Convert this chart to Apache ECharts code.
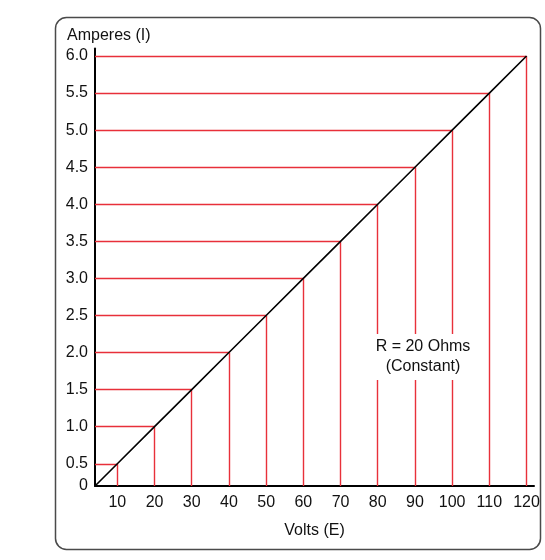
<!DOCTYPE html>
<html>
<head>
<meta charset="utf-8">
<script src="https://cdn.jsdelivr.net/npm/echarts@6/dist/echarts.min.js"></script>
<style>
  html, body { margin: 0; padding: 0; background: #fff; }
  #main { width: 545px; height: 560px; }
</style>
</head>
<body>
<div id="main"></div>
<script>
// Ohm's law, R = 20 ohms
var volts = [10, 20, 30, 40, 50, 60, 70, 80, 90, 100, 110, 120];
var amps = [0.5, 1.0, 1.5, 2.0, 2.5, 3.0, 3.5, 4.0, 4.5, 5.0, 5.5, 6.0];
// the axes cross a little above/right of zero, on the line itself
var xStart = 4; var yStart = 0.2;
var xEnd = 122; var yEnd = 6.1;

var chart = echarts.init(document.getElementById('main'));

var guides = [];
for (var i = 0; i < volts.length; i++) {
  guides.push({ coords: [[xStart, amps[i]], [volts[i], amps[i]]] });
  guides.push({ coords: [[volts[i], amps[i]], [volts[i], yStart]] });
}
var diag = [[xStart, yStart]];
for (var j = 0; j < volts.length; j++) {
  diag.push([volts[j], amps[j]]);
}

var font = 'Liberation Sans, Arial, Helvetica, sans-serif';

var option = {
  animation: false,
  title: {
    text: 'Amperes (I)',
    left: 67,
    top: 28,
    padding: 0,
    textStyle: { fontFamily: font, fontSize: 16, fontWeight: 'normal', color: '#111' }
  },
  grid: { left: 95, right: 11, top: 48.6, bottom: 74 },
  xAxis: {
    type: 'value',
    min: xStart,
    max: xEnd,
    interval: 2,
    name: 'Volts (E)',
    nameLocation: 'middle',
    nameGap: 37,
    nameTextStyle: { fontFamily: font, fontSize: 16, color: '#111' },
    axisLine: { lineStyle: { color: '#000', width: 2 } },
    axisTick: { show: false },
    splitLine: { show: false },
    axisLabel: {
      margin: 9,
      fontFamily: font,
      fontSize: 16,
      color: '#111',
      interval: 0,
      formatter: function (v) {
        var r = Math.round(v);
        return (r % 10 === 0 && r >= 10 && r <= 120) ? String(r) : '';
      }
    }
  },
  yAxis: {
    type: 'value',
    min: yStart,
    max: yEnd,
    interval: 0.1,
    axisLine: { show: true, lineStyle: { color: '#000', width: 2 } },
    axisTick: { show: false },
    splitLine: { show: false },
    axisLabel: {
      margin: 7,
      fontFamily: font,
      fontSize: 16,
      color: '#111',
      interval: 0,
      formatter: function (v) {
        if (Math.abs(v - yStart) < 1e-6) return '0';
        var h = v * 2;
        if (Math.abs(h - Math.round(h)) < 1e-6 && v <= 6.0001) return v.toFixed(1);
        return '';
      }
    }
  },
  series: [
    {
      type: 'lines',
      coordinateSystem: 'cartesian2d',
      silent: true,
      lineStyle: { color: '#e8303a', width: 1.4, opacity: 1 },
      data: guides,
      z: 2
    },
    {
      type: 'line',
      data: diag,
      symbol: 'none',
      silent: true,
      lineStyle: { color: '#000', width: 1.6 },
      z: 3
    }
  ],
  graphic: [
    {
      type: 'rect',
      shape: { x: 55.5, y: 17.5, width: 485, height: 532, r: 11 },
      style: { fill: 'none', stroke: '#4a4a4a', lineWidth: 1.5 },
      silent: true
    },
    {
      type: 'text',
      x: 423,
      y: 334,
      z: 10,
      style: {
        text: 'R = 20 Ohms\n(Constant)',
        fontFamily: font,
        fontSize: 16,
        lineHeight: 20,
        align: 'center',
        verticalAlign: 'top',
        fill: '#111',
        backgroundColor: '#fff',
        padding: [3, 6, 3, 6]
      }
    }
  ]
};

chart.setOption(option);
</script>
</body>
</html>
